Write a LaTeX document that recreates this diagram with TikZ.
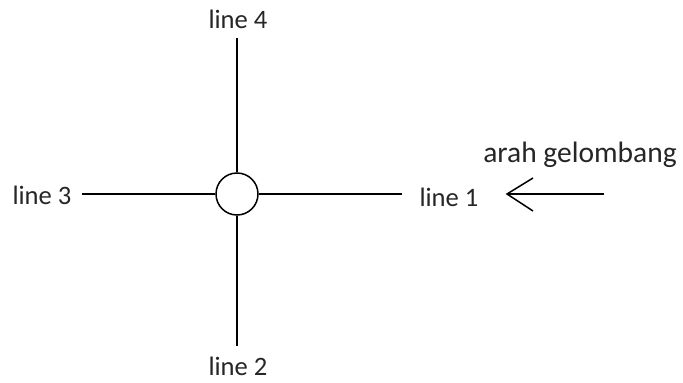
\documentclass[tikz,border=0pt]{standalone}
\usepackage{fontspec}
\setmainfont{Carlito}
\usetikzlibrary{calc}
\begin{document}
\begin{tikzpicture}[x=1pt,y=-1pt,
  lbl/.style={font=\fontsize{26.6}{30}\selectfont, inner sep=0pt, text=black!85},
  ln/.style={line width=1.5pt, black}]
\useasboundingbox (0,0) rectangle (683,383);
\node[ln, draw, circle, minimum size=42pt, inner sep=0pt] (c) at (237,194) {};
\node[lbl] (l4) at (238,19) {line 4};
\node[lbl] (l2) at (238,366) {line 2};
\node[lbl] (l3) at (42,195) {line 3};
\node[lbl] (l1) at (449,197) {line 1};
\node[lbl, font=\fontsize{29.5}{32}\selectfont] (ag) at (580,155) {arah gelombang};
\coordinate (t4) at (237,38);
\coordinate (b2) at (237,346);
\coordinate (e3) at (82,194);
\coordinate (e1) at (402,194);
\coordinate (as) at (604,194);
\coordinate (at) at (507,194);
\draw[ln] (c.north) -- (t4);
\draw[ln] (c.south) -- (b2);
\draw[ln] (c.west) -- (e3);
\draw[ln] (c.east) -- (e1);
\draw[ln] (as) -- (at);
\draw[ln] ($(at)+(26,-16)$) -- (at) -- ($(at)+(26,17)$);
\end{tikzpicture}
\end{document}
